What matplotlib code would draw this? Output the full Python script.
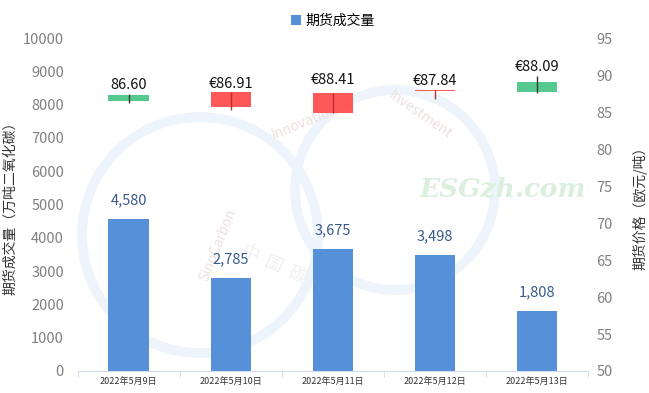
import matplotlib.pyplot as plt
import numpy as np
from matplotlib.patches import Circle

plt.rcParams['font.family'] = ['Noto Sans CJK SC', 'DejaVu Sans']

# data
dates = ['2022年5月9日', '2022年5月10日', '2022年5月11日', '2022年5月12日', '2022年5月13日']
volume = [4580, 2785, 3675, 3498, 1808]
volume_labels = ['4,580', '2,785', '3,675', '3,498', '1,808']
p_open = [86.45, 87.66, 87.53, 88.05, 87.77]
p_close = [87.35, 85.64, 84.90, 87.85, 89.10]
p_high = [87.50, 87.66, 87.53, 88.05, 89.90]
p_low = [86.20, 85.27, 84.90, 86.76, 87.53]
price_labels = ['86.60', '€86.91', '€88.41', '€87.84', '€88.09']

fig = plt.figure(figsize=(6.49, 3.93), dpi=100)

# faint watermark layer in pixel coordinates, behind everything
wm = fig.add_axes([0, 0, 1, 1], zorder=-1)
wm.set_xlim(0, 649)
wm.set_ylim(393, 0)
wm.axis('off')
wm.add_patch(Circle((200, 235), 118, fill=False, ec='#EDF4FB', lw=7))
wm.add_patch(Circle((395, 190), 100, fill=False, ec='#EDF4FB', lw=7))
wm.text(218, 245, 'SinoCarbon', rotation=68, fontsize=10, color='#EEDFDF', ha='center', va='center')
wm.text(305, 122, 'Innovation', rotation=22, fontsize=10, color='#EEDFDF', ha='center', va='center')
wm.text(420, 115, 'Investment', rotation=-35, fontsize=10, color='#EEDFDF', ha='center', va='center')
wm.text(285, 270, '中  国  碳  投', rotation=-25, fontsize=13, color='#F0F0F0', ha='center', va='center')
wm.text(503, 190, 'ESGzh.com', fontsize=19, color='#DCEFDF', style='italic',
        fontweight='bold', family='DejaVu Serif', ha='center', va='center')

ax = fig.add_axes([0.120, 0.056, 0.786, 0.847])
ax.patch.set_alpha(0)
ax2 = ax.twinx()

x = np.arange(len(dates))
w = 0.4

# Bars
ax.bar(x, volume, width=w, color='#5590D9', label='期货成交量', zorder=2)
for xi, v, lab in zip(x, volume, volume_labels):
    ax.text(xi, v + 350, lab, ha='center', va='bottom', fontsize=10.5, color='#3A5A8C')

ax.set_xlim(-0.5, 4.5)
ax.set_ylim(0, 10000)
ax.set_yticks(range(0, 10001, 1000))
ax.set_xticks(x)
ax.set_xticklabels(dates, fontsize=6.5, color='#333333')
ax.set_xticks(np.arange(-0.5, 4.6, 1), minor=True)
ax.tick_params(axis='x', which='major', length=0, pad=4)
ax.tick_params(axis='x', which='minor', length=4, color='#D0DCEC', direction='out')
ax.tick_params(axis='y', length=0, labelsize=10.5, labelcolor='#808080', pad=10)
for s in ['top', 'right', 'left']:
    ax.spines[s].set_visible(False)
ax.spines['bottom'].set_color('#D0DCEC')
ax.set_ylabel('期货成交量（万吨二氧化碳）', fontsize=10, color='#333333', labelpad=4)

# Candlesticks
label_gap = [0.25, 0.25, 0.9, 0.25, 0.25]
for xi, o, c, h, l, lab, g in zip(x, p_open, p_close, p_high, p_low, price_labels, label_gap):
    up = c >= o
    col = '#4DC788' if up else '#FF4F4F'
    ax2.vlines(xi, l, h, color='#333333' if up else '#B83030', lw=1, zorder=3)
    bottom = min(o, c)
    height = abs(c - o)
    ax2.bar(xi, height, bottom=bottom, width=w, color=col, zorder=2, alpha=0.95)
    ax2.text(xi, max(h, o, c) + g, lab, ha='center', va='bottom', fontsize=10.5, color='#111111')

ax2.set_ylim(50, 95)
ax2.set_yticks(range(50, 96, 5))
ax2.tick_params(axis='y', length=0, labelsize=10.5, labelcolor='#808080', pad=6)
for s in ['top', 'right', 'left', 'bottom']:
    ax2.spines[s].set_visible(False)
ax2.set_ylabel('期货价格（欧元/吨）', fontsize=10, color='#333333', labelpad=14)

ax.legend(loc='upper center', bbox_to_anchor=(0.5, 1.11), frameon=False, fontsize=10,
          handlelength=0.7, handleheight=0.7, handletextpad=0.3)

fig.savefig('out.png', dpi=100)
